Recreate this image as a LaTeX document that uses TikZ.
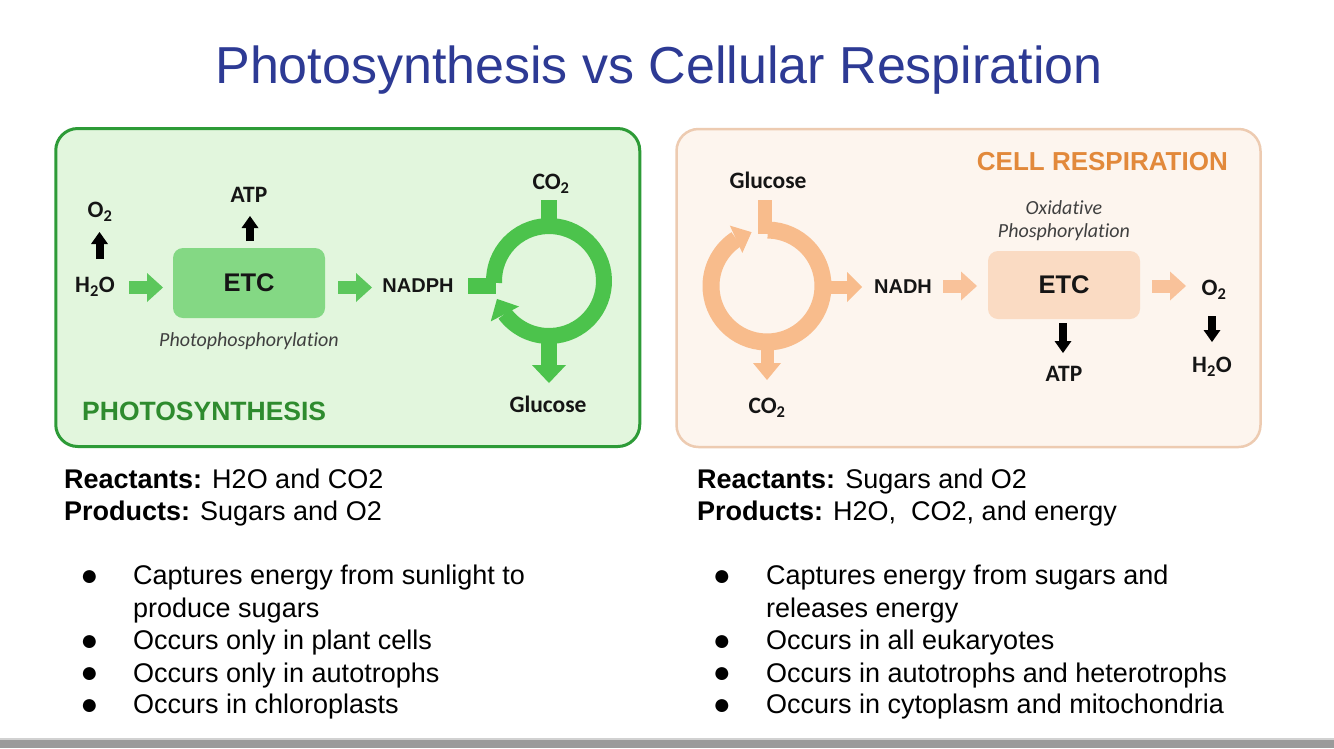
\documentclass[tikz,border=0pt]{standalone}
\usepackage{fontspec}
\setmainfont{Liberation Sans}
\newfontfamily\carlito[Ligatures=NoCommon]{Carlito}
\usetikzlibrary{arrows.meta,bending}
\definecolor{titleblue}{HTML}{2D3A94}
\definecolor{ink}{HTML}{151515}
\definecolor{greyit}{HTML}{404040}
\definecolor{boxgreen}{HTML}{E2F6DD}
\definecolor{bordgreen}{HTML}{2D9B37}
\definecolor{ringgreen}{HTML}{4CC34C}
\definecolor{arrgreen}{HTML}{5CC75C}
\definecolor{etcgreen}{HTML}{84D884}
\definecolor{psgreen}{HTML}{2E8B2E}
\definecolor{boxorange}{HTML}{FDF5EE}
\definecolor{bordorange}{HTML}{EDCBB1}
\definecolor{ringorange}{HTML}{F8BC8C}
\definecolor{arrorange}{HTML}{F9C29A}
\definecolor{etcorange}{HTML}{FADBC3}
\definecolor{crorange}{HTML}{E2893B}
\definecolor{barcol}{HTML}{9A9A9A}
\tikzset{
  lbl/.style={font=\carlito\bfseries\fontsize{23.5}{26}\selectfont, text=ink, inner sep=0pt},
  arlbl/.style={font=\bfseries\fontsize{20}{24}\selectfont, text=ink, inner sep=0pt},
  itl/.style={font=\carlito\itshape\fontsize{20}{24}\selectfont, text=greyit, inner sep=0pt},
  etcbox/.style={minimum width=152pt, minimum height=70pt, rounded corners=10pt, inner sep=0pt,
    font=\bfseries\fontsize{25.5}{28}\selectfont, text=ink},
  panel/.style={line width=3pt, rounded corners=22pt, minimum width=584pt, minimum height=318pt, inner sep=0pt},
  blk/.style={draw=black, line width=8pt, -{Triangle[width=17pt,length=12pt,line width=0pt]}},
  garw/.style={draw=arrgreen, line width=13pt, -{Triangle[width=29pt,length=16pt,line width=0pt]}},
  oarw/.style={draw=arrorange, line width=13pt, -{Triangle[width=29pt,length=16pt,line width=0pt]}},
  body/.style={font=\fontsize{27}{30}\selectfont, anchor=base west, inner sep=0pt, text=black},
  bul/.style={font=\fontsize{30}{32}\selectfont, inner sep=0pt, text=black}
}
\begin{document}
\begin{tikzpicture}[x=1pt,y=-1pt]
\useasboundingbox (0,0) rectangle (1334,748);
\fill[white] (0,0) rectangle (1334,748);
% title
\node[anchor=base, font=\fontsize{52}{60}\selectfont, text=titleblue, inner sep=0pt] (title) at (659,83) {Photosynthesis vs Cellular Respiration};
% panels
\node[panel, draw=bordgreen, fill=boxgreen] (pspanel) at (347.75,287.5) {};
\node[panel, draw=bordorange, fill=boxorange, line width=2.5pt] (crpanel) at (968.5,288) {};

% ---------- photosynthesis ----------
\node[lbl] (o2a) at (100,212) {O\textsubscript{2}};
\node[lbl] (h2oa) at (95,287) {H\textsubscript{2}O};
\node[lbl] (atpa) at (249,195) {ATP};
\node[etcbox, fill=etcgreen] (etca) at (249,283) {ETC};
\node[itl] (photo) at (249,341) {Photophosphorylation};
\node[arlbl] (nadph) at (418,286) {NADPH};
\node[lbl] (co2a) at (551,184) {CO\textsubscript{2}};
\node[lbl] (gluca) at (548,404) {Glucose};
\node[anchor=west, font=\bfseries\fontsize{26.5}{30}\selectfont, text=psgreen, inner sep=0pt] (pstitle) at (82,411) {PHOTOSYNTHESIS};

\coordinate (o2s) at (99.5,259); \coordinate (o2e) at (99.5,232);
\draw[blk] (o2s) -- (o2e);
\coordinate (atps) at (250,241); \coordinate (atpe) at (250,216);
\draw[blk] (atps) -- (atpe);
\coordinate (g1s) at (129,287.5); \coordinate (g1e) at (163,287.5);
\draw[garw] (g1s) -- (g1e);
\coordinate (g2s) at (338,287.5); \coordinate (g2e) at (372,287.5);
\draw[garw] (g2s) -- (g2e);
% cycle
\coordinate (cyca) at (549,281);
\fill[ringgreen] (468,278) rectangle (496,293.5);
\fill[ringgreen] (541,200) rectangle (557,224);
\draw[ringgreen, line width=16pt, -{Triangle[width=32pt,length=17pt,line width=0pt]}]
  (cyca) ++(178:55) arc[start angle=178, end angle=521, radius=55];
\coordinate (glas) at (549,334); \coordinate (glae) at (549,383);
\draw[draw=ringgreen, line width=16pt, -{Triangle[width=34pt,length=18pt,line width=0pt]}] (glas) -- (glae);

% ---------- respiration ----------
\node[anchor=east, font=\bfseries\fontsize{26}{30}\selectfont, text=crorange, inner sep=0pt] (crtitle) at (1228,162) {CELL RESPIRATION};
\node[lbl] (glucb) at (768,180) {Glucose};
\node[lbl] (co2b) at (767,408) {CO\textsubscript{2}};
\node[arlbl] (nadh) at (903,287) {NADH};
\node[etcbox, fill=etcorange, minimum height=68pt] (etcb) at (1064,285) {ETC};
\node[itl] (oxi) at (1064,208) {Oxidative};
\node[itl] (phos) at (1064,232) {Phosphorylation};
\node[lbl] (o2b) at (1214,290) {O\textsubscript{2}};
\node[lbl] (atpb) at (1064,374) {ATP};
\node[lbl] (h2ob) at (1212,367) {H\textsubscript{2}O};

\coordinate (cycb) at (767,286);
\fill[ringorange] (758,200) rectangle (772,234);
\draw[ringorange, line width=17pt, -{Triangle[width=30pt,length=17pt,line width=0pt]}]
  (cycb) ++(271:56) arc[start angle=271, end angle=614, radius=56];
\coordinate (r1s) at (826,287); \coordinate (r1e) at (862,287);
\draw[draw=ringorange, line width=13pt, -{Triangle[width=30pt,length=15pt,line width=0pt]}] (r1s) -- (r1e);
\coordinate (r2s) at (767,344); \coordinate (r2e) at (767,380);
\draw[draw=ringorange, line width=13pt, -{Triangle[width=28pt,length=17pt,line width=0pt]}] (r2s) -- (r2e);
\coordinate (o1s) at (943,286); \coordinate (o1e) at (977,286);
\draw[oarw] (o1s) -- (o1e);
\coordinate (o2s') at (1152,286); \coordinate (o2e') at (1186,286);
\draw[oarw] (o2s') -- (o2e');
\coordinate (atbs) at (1063,323); \coordinate (atbe) at (1063,353);
\draw[blk] (atbs) -- (atbe);
\coordinate (hbs) at (1212,316); \coordinate (hbe) at (1212,342);
\draw[blk] (hbs) -- (hbe);

% ---------- text below ----------
\node[body] (lr) at (64,488) {\textbf{Reactants:} H2O and CO2};
\node[body] (lp) at (64,520) {\textbf{Products:} Sugars and O2};
\node[bul] (lb1) at (89.5,578) {●};
\node[body] (l1a) at (133,584) {Captures energy from sunlight to};
\node[body] (l1b) at (133,617) {produce sugars};
\node[bul] (lb2) at (89.5,643) {●};
\node[body] (l2) at (133,649) {Occurs only in plant cells};
\node[bul] (lb3) at (89.5,675) {●};
\node[body] (l3) at (133,682) {Occurs only in autotrophs};
\node[bul] (lb4) at (89.5,707) {●};
\node[body] (l4) at (133,713) {Occurs in chloroplasts};

\node[body] (rr) at (697,488) {\textbf{Reactants:} Sugars and O2};
\node[body] (rp) at (697,520) {\textbf{Products:} H2O,\ \ CO2, and energy};
\node[bul] (rb1) at (722,578) {●};
\node[body] (r1a) at (766,584) {Captures energy from sugars and};
\node[body] (r1b) at (766,617) {releases energy};
\node[bul] (rb2) at (722,643) {●};
\node[body] (r2) at (766,649) {Occurs in all eukaryotes};
\node[bul] (rb3) at (722,675) {●};
\node[body] (r3) at (766,682) {Occurs in autotrophs and heterotrophs};
\node[bul] (rb4) at (722,707) {●};
\node[body] (r4) at (766,713) {Occurs in cytoplasm and mitochondria};

% bottom bar
\fill[black!18] (0,738) rectangle (1334,739.5);
\fill[barcol] (0,739.5) rectangle (1334,748);
\end{tikzpicture}
\end{document}
